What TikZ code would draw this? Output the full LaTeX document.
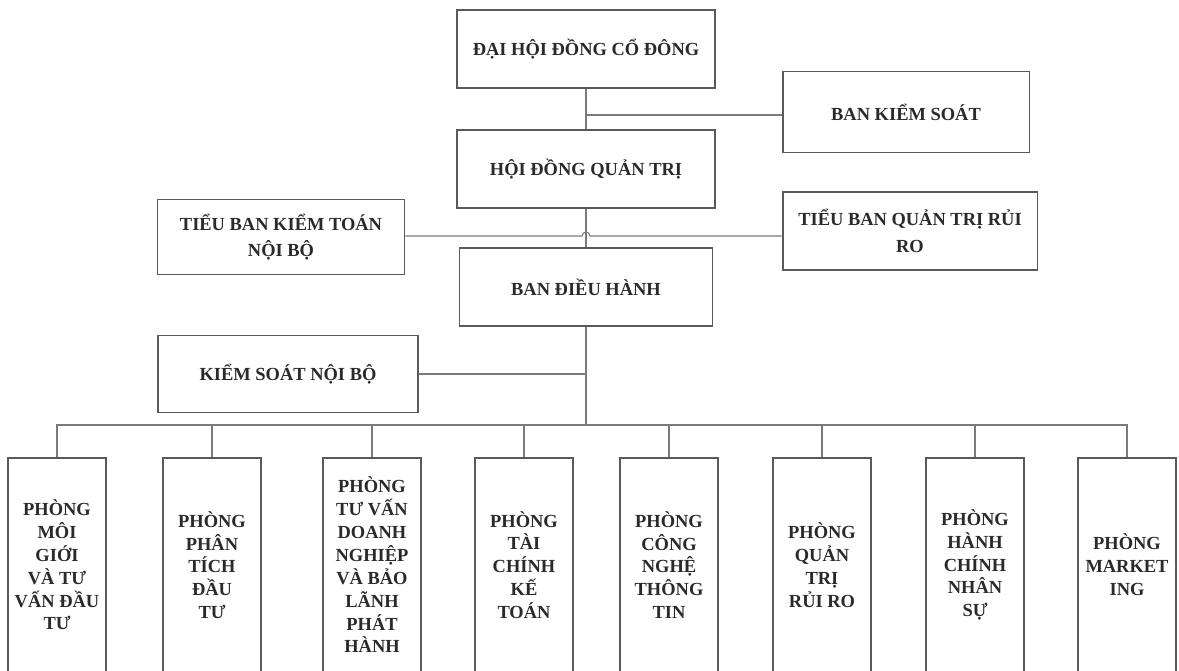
\documentclass[tikz,border=0pt]{standalone}
\usepackage{fontspec}
\setmainfont{Liberation Serif}
\usetikzlibrary{positioning,calc}
\definecolor{boxline}{HTML}{5A5A5A}
\definecolor{conline}{HTML}{7A7A7A}
\definecolor{ink}{HTML}{2A2A2A}
\tikzset{font=\bfseries\fontsize{10.5}{15}\selectfont}

\begin{document}
\begin{tikzpicture}[x=0.02cm, y=-0.02cm]
	\useasboundingbox (0,0) rectangle (1179,670);
	\tikzstyle{every node}=[align=center, inner sep=1pt, text=ink]
	\tikzstyle{topbox}=[draw=boxline, line width=1.1pt, minimum height=1.56cm]
	\tikzstyle{deptbox}=[draw=boxline, line width=1.1pt, minimum width=1.96cm, minimum height=4.28cm, font=\bfseries\fontsize{10.5}{13}\selectfont]
	\tikzstyle{link}=[draw=conline, line width=0.6pt]

	% upper levels
	\node[topbox, minimum width=5.16cm] (dhdcd) at (586, 49) {ĐẠI HỘI ĐỒNG CỔ ĐÔNG};
	\node[topbox, minimum width=4.94cm, minimum height=1.62cm] (bks) at (906, 112) {BAN KIỂM SOÁT};
	\node[topbox, minimum width=5.16cm] (hdqt) at (586, 169) {HỘI ĐỒNG QUẢN TRỊ};
	\node[topbox, minimum width=4.94cm, minimum height=1.5cm] (tbkt) at (281, 237) {TIỂU BAN KIỂM TOÁN\\NỘI BỘ};
	\node[topbox, minimum width=5.1cm] (tbqt) at (910, 231) {TIỂU BAN QUẢN TRỊ RỦI\\RO};
	\node[topbox, minimum width=5.06cm] (bdh) at (586, 287) {BAN ĐIỀU HÀNH};
	\node[topbox, minimum width=5.2cm, minimum height=1.54cm] (ksnb) at (288, 374) {KIỂM SOÁT NỘI BỘ};

	% departments
	\node[deptbox] (p1) at (57, 565) {PHÒNG\\MÔI\\GIỚI\\VÀ TƯ\\VẤN ĐẦU\\TƯ};
	\node[deptbox] (p2) at (212, 565) {PHÒNG\\PHÂN\\TÍCH\\ĐẦU\\TƯ};
	\node[deptbox] (p3) at (372, 565) {PHÒNG\\TƯ VẤN\\DOANH\\NGHIỆP\\VÀ BẢO\\LÃNH\\PHÁT\\HÀNH};
	\node[deptbox] (p4) at (524, 565) {PHÒNG\\TÀI\\CHÍNH\\KẾ\\TOÁN};
	\node[deptbox] (p5) at (669, 565) {PHÒNG\\CÔNG\\NGHỆ\\THÔNG\\TIN};
	\node[deptbox] (p6) at (822, 565) {PHÒNG\\QUẢN\\TRỊ\\RỦI RO};
	\node[deptbox] (p7) at (975, 565) {PHÒNG\\HÀNH\\CHÍNH\\NHÂN\\SỰ};
	\node[deptbox] (p8) at (1127, 565) {PHÒNG\\MARKET\\ING};

	% connectors
	\coordinate (bus) at (586, 425);
	\coordinate (hop) at ($(bdh.north |- 0,236) + (-4,0)$);
	\draw[link] (dhdcd.south) -- (hdqt.north);
	\draw[link] (bks.west |- 0,115) -- (dhdcd.south |- 0,115);
	\draw[link] (hdqt.south) -- (bdh.north);
	\draw[link] (tbkt.east |- hop) -- (hop) arc (180:360:4) -- (tbqt.west |- hop);
	\draw[link] (bdh.south) -- (bus);
	\draw[link] (ksnb.east) -- (ksnb.east -| bdh.south);
	\foreach \i in {1,...,8}
		\draw[link] (bus) -| (p\i.north);
\end{tikzpicture}
\end{document}
